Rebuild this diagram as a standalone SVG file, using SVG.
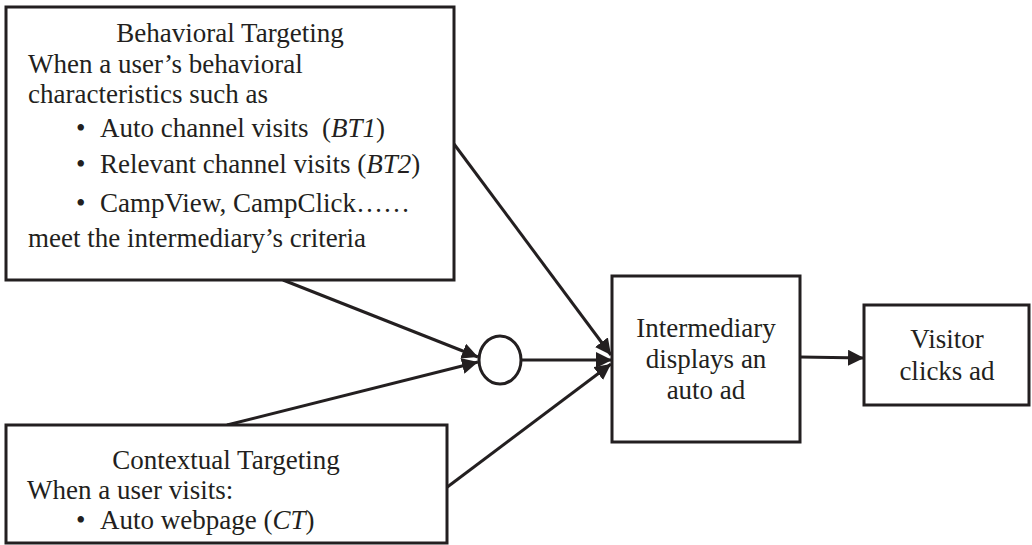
<svg xmlns="http://www.w3.org/2000/svg" width="1032" height="545" viewBox="0 0 1032 545">
<style>
.box{fill:#fff;stroke:#231f20;stroke-width:3}
.t{font-family:"Liberation Serif","Times New Roman",serif;font-size:27px;fill:#231f20}
.c{text-anchor:middle}
.edge{stroke:#231f20;stroke-width:3;fill:none;marker-end:url(#ah)}
</style>
<defs>
<marker id="ah" markerUnits="userSpaceOnUse" markerWidth="18" markerHeight="16" refX="16" refY="8" orient="auto">
<path d="M0,0 L16,8 L0,16 Z" fill="#231f20"/>
</marker>
</defs>
<g id="connectors">
<line class="edge" x1="283" y1="280" x2="478" y2="357"/>
<line class="edge" x1="227" y1="425" x2="478" y2="362"/>
<line class="edge" x1="521" y1="360" x2="612" y2="360"/>
<line class="edge" x1="454" y1="144" x2="611" y2="355"/>
<line class="edge" x1="446" y1="488" x2="611" y2="364"/>
<line class="edge" x1="800" y1="357" x2="864" y2="358"/>
</g>
<g id="bt">
<rect class="box" x="6" y="7" width="448" height="273"/>
<text class="t c" x="230" y="42">Behavioral Targeting</text>
<text class="t" x="28" y="73">When a user’s behavioral</text>
<text class="t" x="28" y="103">characteristics such as</text>
<text class="t" x="76" y="137">•</text>
<text class="t" x="100" y="137" xml:space="preserve">Auto channel visits  (<tspan font-style="italic">BT1</tspan>)</text>
<text class="t" x="76" y="173">•</text>
<text class="t" x="100" y="173">Relevant channel visits (<tspan font-style="italic">BT2</tspan>)</text>
<text class="t" x="76" y="212">•</text>
<text class="t" x="100" y="212">CampView, CampClick……</text>
<text class="t" x="28" y="247">meet the intermediary’s criteria</text>
</g>
<g id="ct">
<rect class="box" x="6" y="425" width="441" height="118"/>
<text class="t c" x="226" y="469">Contextual Targeting</text>
<text class="t" x="27" y="499">When a user visits:</text>
<text class="t" x="76" y="529">•</text>
<text class="t" x="100" y="529">Auto webpage (<tspan font-style="italic">CT</tspan>)</text>
</g>
<g id="and">
<ellipse class="box" cx="500" cy="360" rx="21" ry="24"/>
</g>
<g id="intermediary">
<rect class="box" x="612" y="276" width="188" height="166"/>
<text class="t c" x="706" y="337">Intermediary</text>
<text class="t c" x="706" y="368">displays an</text>
<text class="t c" x="706" y="399">auto ad</text>
</g>
<g id="visitor">
<rect class="box" x="864" y="305" width="165" height="100"/>
<text class="t c" x="947" y="348">Visitor</text>
<text class="t c" x="947" y="380">clicks ad</text>
</g>
</svg>
